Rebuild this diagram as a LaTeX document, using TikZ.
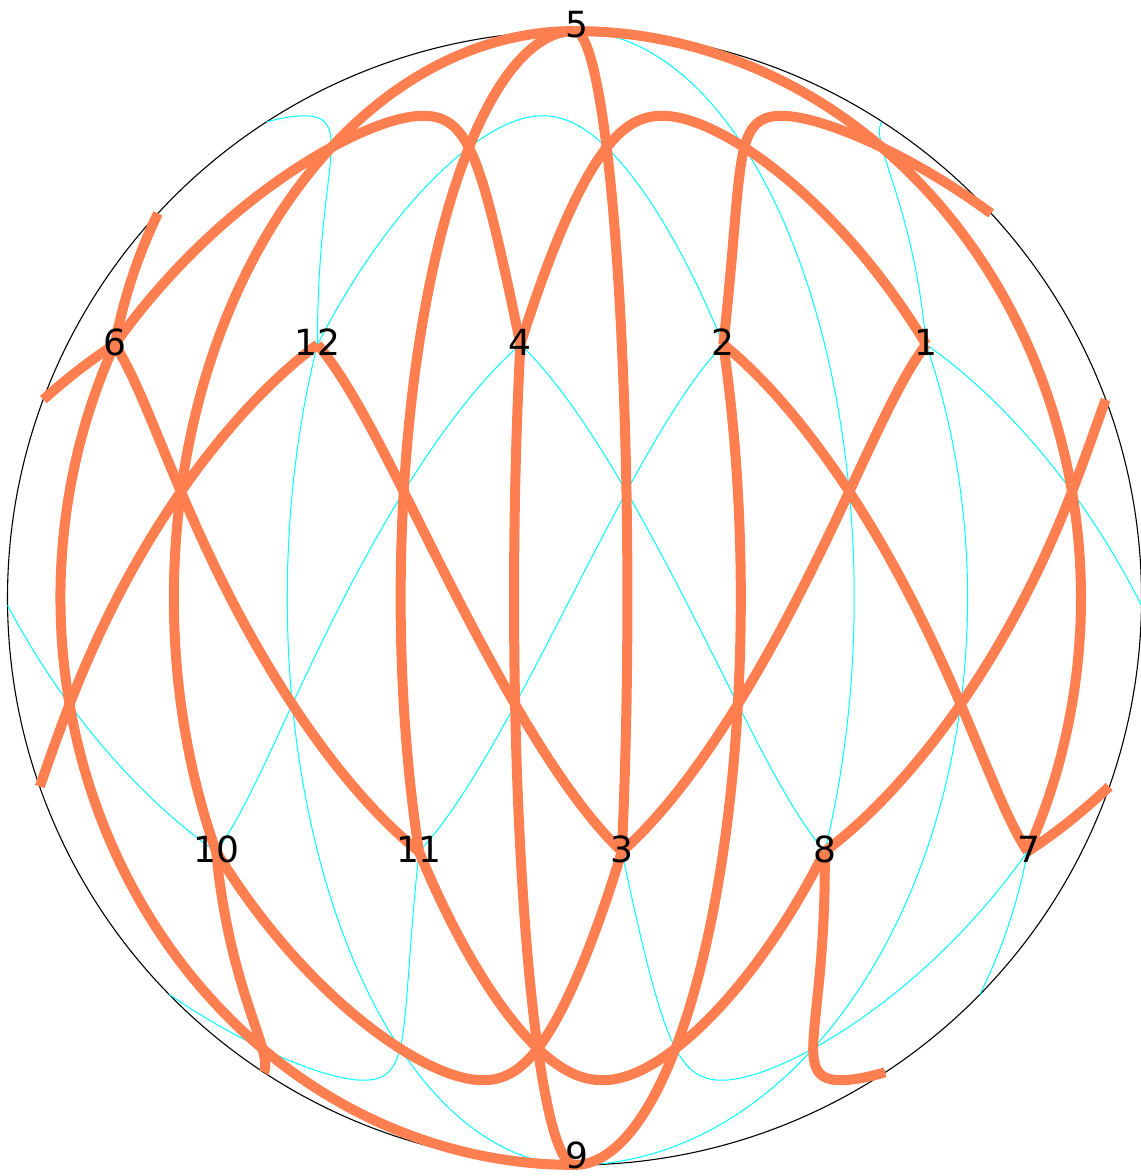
\documentclass[tikz,border=0pt]{standalone}
\usepackage{fontspec}
\setmainfont{DejaVu Sans}
\definecolor{coralc}{HTML}{FF7F50}
\definecolor{cyanc}{HTML}{00FFFF}
\newcommand\gCX{574.5}
\newcommand\gCY{598}
\newcommand\gRR{567}
\newcommand\gLat{26.56505}
\newcommand\gNS{100}
% great-circle edge in projection x = cx + R (lon/180) cos(lat), y = cy - R sin(lat)
\newcommand\gedge[5]{%
  \pgfmathsetmacro\gAx{cos(#2)*cos(#3)}%
  \pgfmathsetmacro\gAy{cos(#2)*sin(#3)}%
  \pgfmathsetmacro\gAz{sin(#2)}%
  \pgfmathsetmacro\gBx{cos(#4)*cos(#5)}%
  \pgfmathsetmacro\gBy{cos(#4)*sin(#5)}%
  \pgfmathsetmacro\gBz{sin(#4)}%
  \pgfmathsetmacro\gTh{acos((\gAx)*(\gBx)+(\gAy)*(\gBy)+(\gAz)*(\gBz))}%
  \pgfmathsetmacro\gSth{sin(\gTh)}%
  \pgfmathsetmacro\gX{\gCX+\gRR*((#3)/180)*cos(#2)}%
  \pgfmathsetmacro\gY{\gCY-\gRR*sin(#2)}%
  \xdef\gPlam{#3}\xdef\gPphi{#2}%
  \xdef\gpath{(\gX,\gY)}%
  \foreach \gk in {1,...,\gNS}{%
    \pgfmathsetmacro\gT{\gk/\gNS}%
    \pgfmathsetmacro\gCa{sin((1-\gT)*\gTh)/\gSth}%
    \pgfmathsetmacro\gCb{sin(\gT*\gTh)/\gSth}%
    \pgfmathsetmacro\gQx{(\gCa)*(\gAx)+(\gCb)*(\gBx)}%
    \pgfmathsetmacro\gQy{(\gCa)*(\gAy)+(\gCb)*(\gBy)}%
    \pgfmathsetmacro\gQz{max(-1,min(1,(\gCa)*(\gAz)+(\gCb)*(\gBz)))}%
    \pgfmathsetmacro\gQphi{asin(\gQz)}%
    \pgfmathsetmacro\gQlam{atan2(\gQy,\gQx)}%
    \pgfmathsetmacro\gDl{abs((\gQlam)-(\gPlam))}%
    \ifdim\gDl pt>180pt
      \pgfmathsetmacro\gS{(\gPlam)>0 ? 1 : -1}%
      \pgfmathsetmacro\gQu{(\gQlam)+360*(\gS)}%
      \pgfmathsetmacro\gF{(180*(\gS)-(\gPlam))/((\gQu)-(\gPlam))}%
      \pgfmathsetmacro\gFs{(\gPphi)+(\gF)*((\gQphi)-(\gPphi))}%
      \pgfmathsetmacro\gEx{\gCX+(\gS)*\gRR*cos(\gFs)}%
      \pgfmathsetmacro\gNx{\gCX-(\gS)*\gRR*cos(\gFs)}%
      \pgfmathsetmacro\gEy{\gCY-\gRR*sin(\gFs)}%
      \xdef\gpath{\gpath -- (\gEx,\gEy) (\gNx,\gEy)}%
    \fi
    \pgfmathsetmacro\gX{\gCX+\gRR*((\gQlam)/180)*cos(\gQphi)}%
    \pgfmathsetmacro\gY{\gCY-\gRR*(\gQz)}%
    \xdef\gpath{\gpath -- (\gX,\gY)}%
    \xdef\gPlam{\gQlam}\xdef\gPphi{\gQphi}%
  }%
  \edef\gtmp{\noexpand\draw[#1] \gpath;}\gtmp
}
\begin{document}
\begin{tikzpicture}[x=0.5pt,y=-0.5pt,
  orangeline/.style={draw=coralc,line width=5pt,line join=round},
  cyanline/.style={draw=cyanc,line width=0.5pt,line join=round},
  lbl/.style={font=\fontsize{18}{20}\selectfont,text=black,inner sep=0pt}]
\useasboundingbox (0,0) rectangle (1140,1176);
\draw[black,line width=0.55pt] (\gCX,\gCY) circle[radius=\gRR];
% vertex longitudes: upper ring 6,12,4,2,1 ; lower ring 10,11,3,8,7
\def\lSix{-163.2}\def\lTwelve{-91.2}\def\lFour{-19.2}\def\lTwo{52.8}\def\lOne{124.8}
\def\lTen{-127.2}\def\lEleven{-55.2}\def\lThree{16.8}\def\lEight{88.8}\def\lSeven{160.8}
% cyan edges
\gedge{cyanline}{90}{\lEight}{-\gLat}{\lEight}
\gedge{cyanline}{-90}{\lTwelve}{\gLat}{\lTwelve}
\gedge{cyanline}{-90}{\lOne}{\gLat}{\lOne}
\gedge{cyanline}{\gLat}{\lTwelve}{\gLat}{\lTwo}
\gedge{cyanline}{\gLat}{\lOne}{\gLat}{\lTwelve}
\gedge{cyanline}{-\gLat}{\lThree}{-\gLat}{\lSeven}
\gedge{cyanline}{-\gLat}{\lSeven}{-\gLat}{\lEleven}
\gedge{cyanline}{\gLat}{\lFour}{-\gLat}{\lEight}
\gedge{cyanline}{\gLat}{\lFour}{-\gLat}{\lTen}
\gedge{cyanline}{\gLat}{\lTwo}{-\gLat}{\lEleven}
\gedge{cyanline}{\gLat}{\lOne}{-\gLat}{\lTen}
% orange edges
\gedge{orangeline}{90}{\lTen}{-\gLat}{\lTen}
\gedge{orangeline}{90}{\lEleven}{-\gLat}{\lEleven}
\gedge{orangeline}{90}{\lThree}{-\gLat}{\lThree}
\gedge{orangeline}{90}{\lSeven}{-\gLat}{\lSeven}
\gedge{orangeline}{-90}{\lSix}{\gLat}{\lSix}
\gedge{orangeline}{-90}{\lFour}{\gLat}{\lFour}
\gedge{orangeline}{-90}{\lTwo}{\gLat}{\lTwo}
\gedge{orangeline}{\gLat}{\lSix}{\gLat}{\lFour}
\gedge{orangeline}{\gLat}{\lFour}{\gLat}{\lOne}
\gedge{orangeline}{\gLat}{\lTwo}{\gLat}{\lSix}
\gedge{orangeline}{-\gLat}{\lTen}{-\gLat}{\lThree}
\gedge{orangeline}{-\gLat}{\lEleven}{-\gLat}{\lEight}
\gedge{orangeline}{-\gLat}{\lEight}{-\gLat}{\lTen}
\gedge{orangeline}{\gLat}{\lSix}{-\gLat}{\lEleven}
\gedge{orangeline}{\gLat}{\lSix}{-\gLat}{\lEight}
\gedge{orangeline}{\gLat}{\lTwelve}{-\gLat}{\lThree}
\gedge{orangeline}{\gLat}{\lTwelve}{-\gLat}{\lSeven}
\gedge{orangeline}{\gLat}{\lTwo}{-\gLat}{\lSeven}
\gedge{orangeline}{\gLat}{\lOne}{-\gLat}{\lThree}
% labels
\node[lbl] (n5) at (577,25) {5};
\node[lbl] (n9) at (577,1155) {9};
\node[lbl] (n6) at (114.7,342.5) {6};
\node[lbl] (n12) at (317.5,342.5) {12};
\node[lbl] (n4) at (520.4,342.5) {4};
\node[lbl] (n2) at (723.3,342.5) {2};
\node[lbl] (n1) at (926.1,342.5) {1};
\node[lbl] (n10) at (216.1,849.5) {10};
\node[lbl] (n11) at (419.0,849.5) {11};
\node[lbl] (n3) at (621.8,849.5) {3};
\node[lbl] (n8) at (824.7,849.5) {8};
\node[lbl] (n7) at (1028.5,849.5) {7};
\end{tikzpicture}
\end{document}
